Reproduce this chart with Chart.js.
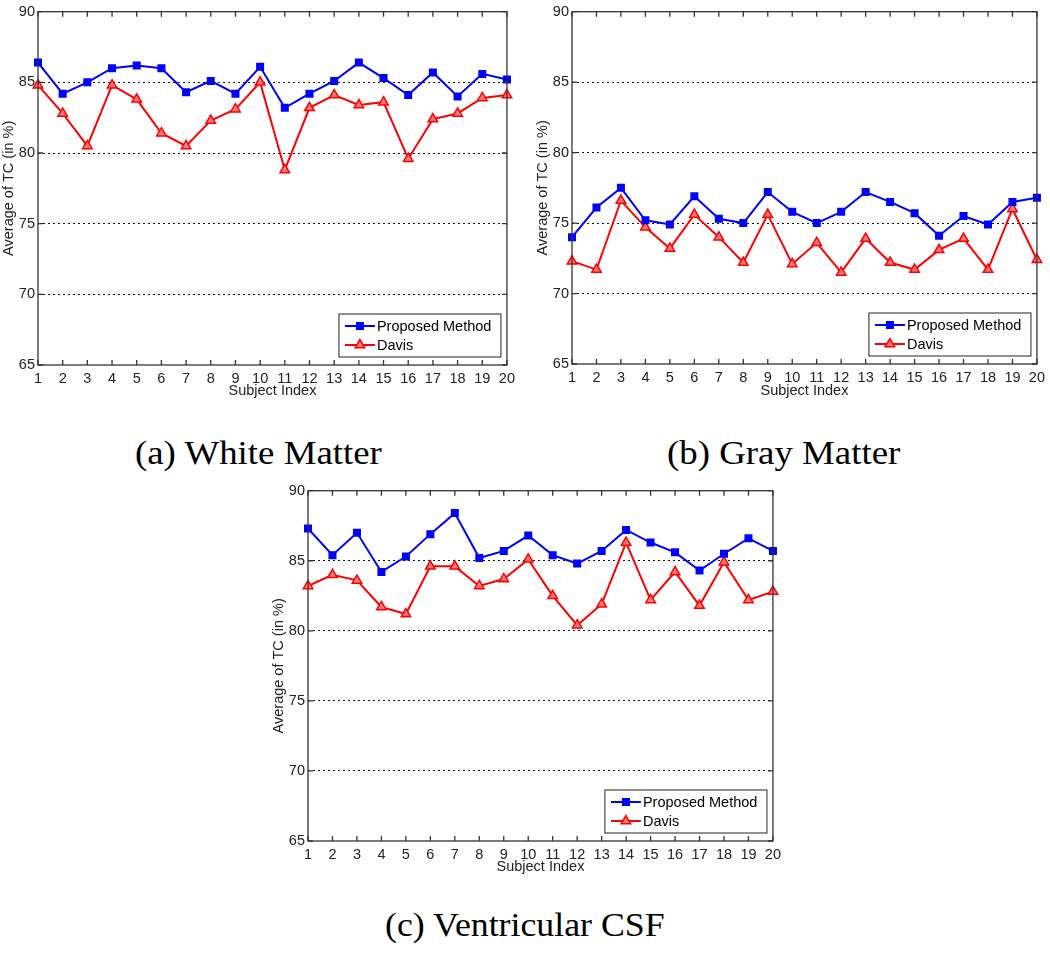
<!DOCTYPE html>
<html>
<head>
<meta charset="utf-8">
<script src="https://cdn.jsdelivr.net/npm/chart.js@4.4.1/dist/chart.umd.min.js"></script>
<style>
body{margin:0;background:#fff;width:1050px;height:979px;position:relative;overflow:hidden}
canvas{position:absolute}
.cap{position:absolute;font-family:"Liberation Serif",serif;font-size:34px;line-height:34px;color:#000;white-space:nowrap;transform-origin:left top}
</style>
</head>
<body>
<canvas id="wm" width="520" height="400" style="left:0;top:0"></canvas>
<canvas id="gm" width="516" height="400" style="left:534px;top:0"></canvas>
<canvas id="csf" width="516" height="397" style="left:270px;top:479px"></canvas>
<div class="cap" id="capA" style="left:135px;top:436px">(a) White Matter</div>
<div class="cap" id="capB" style="left:667px;top:436px">(b) Gray Matter</div>
<div class="cap" id="capC" style="left:385px;top:908px">(c) Ventricular CSF</div>
<script>
var subjects = ['1','2','3','4','5','6','7','8','9','10','11','12','13','14','15','16','17','18','19','20'];

// (a) White Matter
var wmProposed = [86.4,84.2,85.0,86.0,86.2,86.0,84.3,85.1,84.2,86.1,83.2,84.2,85.1,86.4,85.3,84.1,85.7,84.0,85.6,85.2];
var wmDavis    = [84.8,82.8,80.5,84.8,83.8,81.4,80.5,82.3,83.1,85.0,78.8,83.2,84.1,83.4,83.6,79.6,82.4,82.8,83.9,84.1];

// (b) Gray Matter
var gmProposed = [74.0,76.1,77.5,75.2,74.9,76.9,75.3,75.0,77.2,75.8,75.0,75.8,77.2,76.5,75.7,74.1,75.5,74.9,76.5,76.8];
var gmDavis    = [72.3,71.7,76.6,74.7,73.2,75.6,74.0,72.2,75.6,72.1,73.6,71.5,73.9,72.2,71.7,73.1,73.9,71.7,76.0,72.4];

// (c) Ventricular CSF
var csfProposed = [87.3,85.4,87.0,84.2,85.3,86.9,88.4,85.2,85.7,86.8,85.4,84.8,85.7,87.2,86.3,85.6,84.3,85.5,86.6,85.7];
var csfDavis    = [83.2,84.0,83.6,81.7,81.2,84.6,84.6,83.2,83.7,85.1,82.5,80.4,81.9,86.3,82.2,84.2,81.8,84.9,82.2,82.8];

var yMin = 65, yMax = 90, yStep = 5;
var seriesNames = ['Proposed Method', 'Davis'];

var FONT = {family: '"Liberation Sans", Arial, sans-serif', size: 14.5};

// box, inward ticks and legend like the matlab figure
var framePlugin = {
  id: 'frame',
  afterDraw: function(chart){
    var ctx = chart.ctx, a = chart.chartArea;
    var xs = chart.scales.x, ys = chart.scales.y;
    ctx.save();
    ctx.strokeStyle = '#333';
    ctx.lineWidth = 1.3;
    ctx.strokeRect(a.left, a.top, a.right - a.left, a.bottom - a.top);
    ctx.beginPath();
    for (var i = 0; i < subjects.length; i++) {
      var px = xs.getPixelForValue(i);
      ctx.moveTo(px, a.bottom); ctx.lineTo(px, a.bottom - 5);
      ctx.moveTo(px, a.top); ctx.lineTo(px, a.top + 5);
    }
    ys.ticks.forEach(function(t){
      var py = ys.getPixelForValue(t.value);
      ctx.moveTo(a.left, py); ctx.lineTo(a.left + 5, py);
      ctx.moveTo(a.right, py); ctx.lineTo(a.right - 5, py);
    });
    ctx.stroke();

    // legend
    var w = 162, h = 43;
    var bx = a.right - 6 - w, by = a.bottom - 8 - h;
    ctx.fillStyle = '#fff';
    ctx.fillRect(bx, by, w, h);
    ctx.strokeStyle = '#222';
    ctx.lineWidth = 1;
    ctx.strokeRect(bx, by, w, h);
    chart.data.datasets.forEach(function(ds, k){
      var cy = by + 12 + k * 19;
      ctx.strokeStyle = ds.borderColor;
      ctx.lineWidth = 2;
      ctx.beginPath();
      ctx.moveTo(bx + 6, cy); ctx.lineTo(bx + 36, cy);
      ctx.stroke();
      ctx.fillStyle = ds.pointBackgroundColor;
      ctx.strokeStyle = ds.borderColor;
      ctx.lineWidth = ds.pointBorderWidth;
      Chart.helpers.drawPoint(ctx, {pointStyle: ds.pointStyle, radius: ds.pointRadius, borderWidth: ds.pointBorderWidth, rotation: 0}, bx + 21, cy);
      ctx.fillStyle = '#000';
      ctx.font = '14.5px "Liberation Sans", Arial, sans-serif';
      ctx.textBaseline = 'middle';
      ctx.textAlign = 'left';
      ctx.fillText(ds.label, bx + 38, cy + 1);
    });
    ctx.restore();
  }
};

function makeChart(id, proposed, davis, rightPad, xHeight){
  return new Chart(document.getElementById(id).getContext('2d'), {
    type: 'line',
    data: {
      labels: subjects,
      datasets: [{
        label: seriesNames[0],
        data: proposed,
        borderColor: '#0000ff',
        backgroundColor: '#0000ff',
        borderWidth: 2,
        pointStyle: 'rect',
        pointRadius: 4.6,
        pointBackgroundColor: '#0000ff',
        pointBorderWidth: 1.5,
        tension: 0,
        clip: false
      }, {
        label: seriesNames[1],
        data: davis,
        borderColor: '#ff0000',
        backgroundColor: '#ff0000',
        borderWidth: 2,
        pointStyle: 'triangle',
        pointRadius: 5.5,
        pointBackgroundColor: '#ff7a7a',
        pointBorderWidth: 1.5,
        tension: 0,
        clip: false
      }]
    },
    options: {
      responsive: false,
      animation: false,
      events: [],
      layout: {padding: {left: 0, top: 6, right: rightPad, bottom: 0}},
      plugins: {legend: {display: false}, tooltip: {enabled: false}},
      scales: {
        x: {
          type: 'category',
          offset: false,
          grid: {display: false, drawTicks: false},
          border: {display: false},
          ticks: {padding: 5, font: FONT, color: '#222', autoSkip: false, maxRotation: 0},
          title: {display: true, text: 'Subject Index', padding: 0, font: FONT, color: '#222'},
          afterFit: function(s){ s.height = xHeight; }
        },
        y: {
          min: yMin,
          max: yMax,
          grid: {
            drawTicks: false,
            lineWidth: 1,
            color: function(c){ return (c.tick && (c.tick.value === yMin || c.tick.value === yMax)) ? 'rgba(0,0,0,0)' : '#111'; }
          },
          border: {display: false, dash: [2, 3]},
          ticks: {stepSize: yStep, padding: 3, font: FONT, color: '#222'},
          title: {display: true, text: 'Average of TC (in %)', padding: 0, font: FONT, color: '#222'},
          afterFit: function(s){ s.width = 38; }
        }
      }
    },
    plugins: [framePlugin]
  });
}

makeChart('wm', wmProposed, wmDavis, 11, 35);
makeChart('gm', gmProposed, gmDavis, 9, 36);
makeChart('csf', csfProposed, csfDavis, 11, 35);

// stretch the captions to the widths they have in the figure
[['capA', 247], ['capB', 233], ['capC', 280]].forEach(function(p){
  var el = document.getElementById(p[0]);
  el.style.transform = 'scaleX(' + (p[1] / el.offsetWidth) + ')';
});
</script>
</body>
</html>
